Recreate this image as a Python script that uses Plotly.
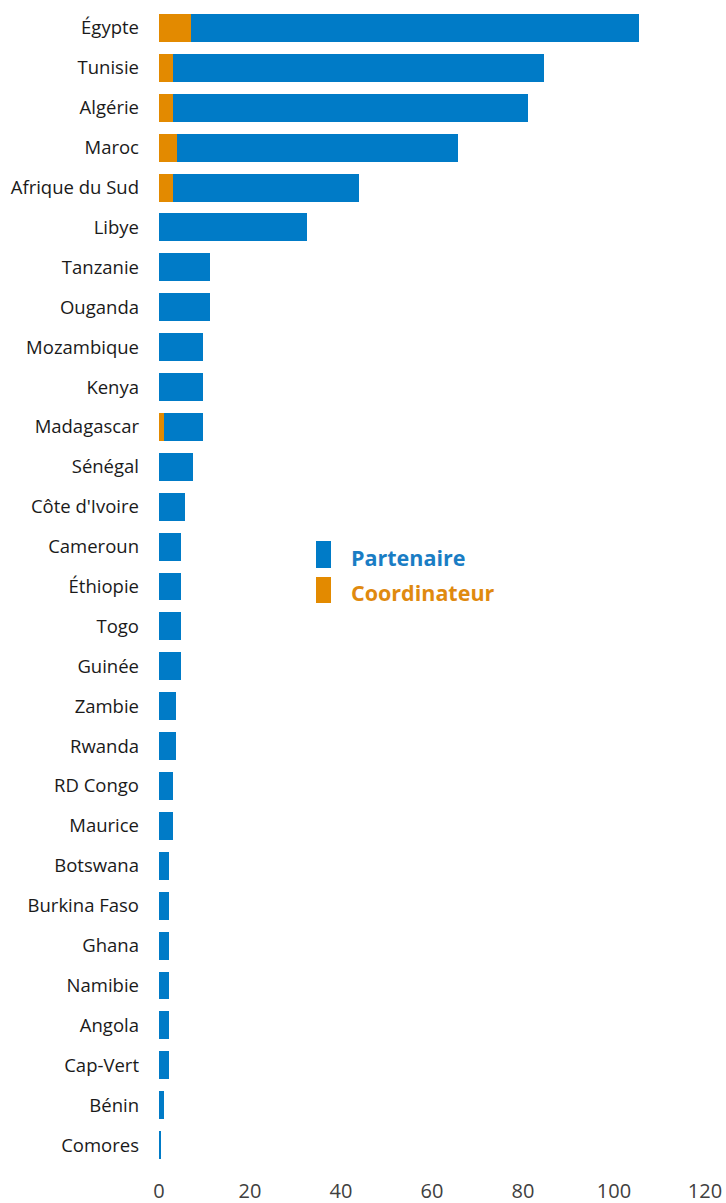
import plotly.graph_objects as go

countries = ["Égypte", "Tunisie", "Algérie", "Maroc", "Afrique du Sud", "Libye",
             "Tanzanie", "Ouganda", "Mozambique", "Kenya", "Madagascar", "Sénégal",
             "Côte d'Ivoire", "Cameroun", "Éthiopie", "Togo", "Guinée", "Zambie",
             "Rwanda", "RD Congo", "Maurice", "Botswana", "Burkina Faso", "Ghana",
             "Namibie", "Angola", "Cap-Vert", "Bénin", "Comores"]
coordinateur = [7, 3, 3, 4, 3, 0, 0, 0, 0, 0, 1, 0,
                0, 0, 0, 0, 0, 0, 0, 0, 0, 0, 0, 0,
                0, 0, 0, 0, 0]
partenaire = [98.5, 81.7, 78, 61.7, 41, 32.5, 11.3, 11.3, 9.7, 9.7, 8.7, 7.5,
              5.8, 4.8, 4.8, 4.8, 4.8, 3.8, 3.8, 3.1, 3.1, 2.1, 2.1, 2.1,
              2.1, 2.1, 2.1, 1, 0.3]
x_ticks = [0, 20, 40, 60, 80, 100, 120]

BLUE = "#007BC7"
ORANGE = "#E38A00"

fig = go.Figure()
fig.add_trace(go.Bar(y=countries, x=coordinateur, orientation="h", name="Coordinateur",
                     marker=dict(color=ORANGE, line=dict(width=0))))
fig.add_trace(go.Bar(y=countries, x=partenaire, orientation="h", name="Partenaire",
                     marker=dict(color=BLUE, line=dict(width=0))))

fig.update_layout(
    width=726, height=1203,
    barmode="stack", bargap=0.3,
    plot_bgcolor="white", paper_bgcolor="white",
    margin=dict(l=159, r=21, t=8, b=38, autoexpand=False),
    showlegend=False,
    font=dict(family="Open Sans", color="#1a1a1a"),
)
fig.update_yaxes(categoryorder="array", categoryarray=countries, autorange="reversed",
                 showgrid=False, showline=False, zeroline=False, automargin=False,
                 tickfont=dict(size=18.5, color="#1a1a1a"), ticklabelstandoff=19)
fig.update_xaxes(range=[0, 120], tickvals=x_ticks, ticktext=[str(v) for v in x_ticks],
                 showgrid=False, showline=False, zeroline=False, automargin=False,
                 tickfont=dict(size=20, color="#404040"), ticklabelstandoff=12)

# custom legend
fig.add_shape(type="rect", xref="paper", yref="paper",
              x0=(316 - 159) / 546, x1=(331 - 159) / 546,
              y0=(1165 - 568) / 1157, y1=(1165 - 541) / 1157,
              fillcolor=BLUE, line=dict(width=0))
fig.add_shape(type="rect", xref="paper", yref="paper",
              x0=(316 - 159) / 546, x1=(331 - 159) / 546,
              y0=(1165 - 603) / 1157, y1=(1165 - 577) / 1157,
              fillcolor=ORANGE, line=dict(width=0))
fig.add_annotation(xref="paper", yref="paper", x=(349 - 159) / 546, y=(1165 - 557) / 1157,
                   xanchor="left", yanchor="middle", showarrow=False,
                   text="<b>Partenaire</b>", font=dict(size=21.5, color="#1A7DC4", family="Open Sans"))
fig.add_annotation(xref="paper", yref="paper", x=(349 - 159) / 546, y=(1165 - 592) / 1157,
                   xanchor="left", yanchor="middle", showarrow=False,
                   text="<b>Coordinateur</b>", font=dict(size=21.5, color="#E08A0F", family="Open Sans"))

fig.write_html("out.html", config={"displayModeBar": False},
               post_script="document.body.style.margin='0';")
